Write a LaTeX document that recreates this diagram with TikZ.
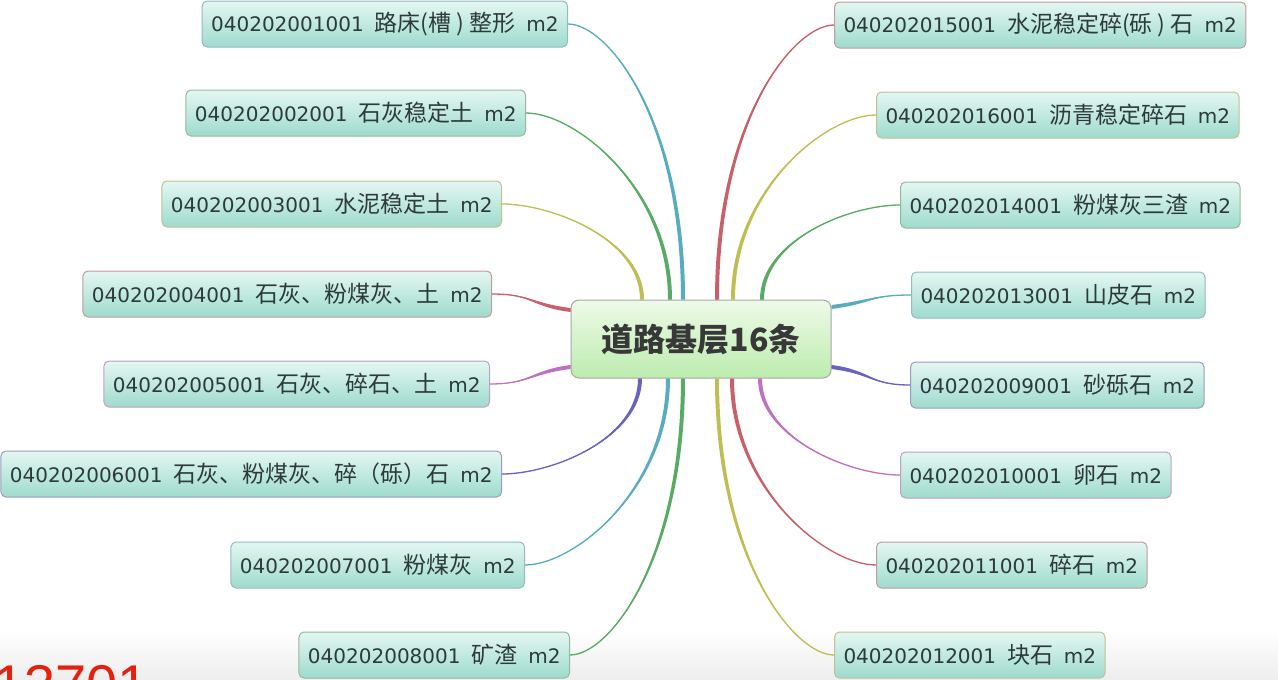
\documentclass[tikz,border=0pt]{standalone}
\usepackage{fontspec}
\setmainfont[WordSpace=1.7]{DejaVu Sans}
\newfontfamily\cjk[Scale=1.15]{Noto Sans CJK SC}
\newfontfamily\hubfont{Noto Sans CJK SC}
\newfontfamily\stampfont{Liberation Sans}
\usetikzlibrary{calc}
\definecolor{leaftop}{RGB}{228,247,242}
\definecolor{leafbot}{RGB}{158,219,205}
\definecolor{hubtop}{RGB}{238,250,232}
\definecolor{hubbot}{RGB}{188,236,174}
\definecolor{inktext}{RGB}{45,58,58}
\definecolor{lnteal}{RGB}{88,172,192}
\definecolor{lngreen}{RGB}{88,170,100}
\definecolor{lnolive}{RGB}{190,190,84}
\definecolor{lnred}{RGB}{200,96,106}
\definecolor{lnpink}{RGB}{192,112,192}
\definecolor{lnblue}{RGB}{104,98,192}
\definecolor{stampred}{RGB}{230,32,14}

% tapered branch: colour, leaf end, hub end, leaf handle, hub handle, half width at hub
\newcommand{\twig}[6]{%
  \fill[#1] (#2) .. controls ($(#2)+(#4)$) and ($(#3)+(#5)-(#6)$) .. ($(#3)-(#6)$)
    -- ($(#3)+(#6)$) .. controls ($(#3)+(#5)+(#6)$) and ($(#2)+(#4)$) .. (#2) -- cycle;
  \draw[#1, line width=1.3] (#2) .. controls ($(#2)+(#4)$) and ($(#3)+(#5)$) .. (#3);
}

\begin{document}
\begin{tikzpicture}[
        x=1pt, y=-1pt,
        leaf/.style={draw=#1!60!gray!70!white, line width=1, rounded corners=5, top color=leaftop, bottom color=leafbot,
            minimum height=46, inner xsep=9, text=inktext, font=\fontsize{20}{24}\selectfont},
        hub/.style={draw=black!35, line width=1, rounded corners=8, top color=hubtop, bottom color=hubbot,
            minimum width=260, minimum height=78, text=black!78, font=\fontsize{32}{36}\selectfont\hubfont\bfseries}
    ]
    \useasboundingbox (0,0) rectangle (1278,680);
    \clip (0,0) rectangle (1278,680);
    \shade[top color=white, bottom color=black!7] (0,630) rectangle (1278,680);

    \node[hub] (hub) at (701,339) {道路基层16条};

    % left column
    \node[leaf=lnteal, anchor=east] (l1) at (568,24) {040202001001 {\cjk 路床(槽 ) 整形} m2};
    \node[leaf=lngreen, anchor=east] (l2) at (526,113) {040202002001 {\cjk 石灰稳定土} m2};
    \node[leaf=lnolive, anchor=east] (l3) at (502,204) {040202003001 {\cjk 水泥稳定土} m2};
    \node[leaf=lnred, anchor=east] (l4) at (492,294) {040202004001 {\cjk 石灰、粉煤灰、土} m2};
    \node[leaf=lnpink, anchor=east] (l5) at (490,384) {040202005001 {\cjk 石灰、碎石、土} m2};
    \node[leaf=lnblue, anchor=east] (l6) at (502,474) {040202006001 {\cjk 石灰、粉煤灰、碎（砾）石} m2};
    \node[leaf=lnteal, anchor=east] (l7) at (525,565) {040202007001 {\cjk 粉煤灰} m2};
    \node[leaf=lngreen, anchor=east] (l8) at (570,655) {040202008001 {\cjk 矿渣} m2};

    % right column
    \node[leaf=lnred, anchor=west] (r1) at (834,25) {040202015001 {\cjk 水泥稳定碎(砾 ) 石} m2};
    \node[leaf=lnolive, anchor=west] (r2) at (876,115) {040202016001 {\cjk 沥青稳定碎石} m2};
    \node[leaf=lngreen, anchor=west] (r3) at (900,205) {040202014001 {\cjk 粉煤灰三渣} m2};
    \node[leaf=lnteal, anchor=west] (r4) at (911,295) {040202013001 {\cjk 山皮石} m2};
    \node[leaf=lnblue, anchor=west] (r5) at (910,385) {040202009001 {\cjk 砂砾石} m2};
    \node[leaf=lnpink, anchor=west] (r6) at (900,475) {040202010001 {\cjk 卵石} m2};
    \node[leaf=lnred, anchor=west] (r7) at (876,565) {040202011001 {\cjk 碎石} m2};
    \node[leaf=lnolive, anchor=west] (r8) at (834,655) {040202012001 {\cjk 块石} m2};

    % where the branches meet the hub
    \coordinate (a1) at ($(hub.north)+(-18,0)$);
    \coordinate (a2) at ($(hub.north)+(-31,0)$);
    \coordinate (a3) at ($(hub.north)+(-59,0)$);
    \coordinate (a4) at ($(hub.west)+(0,-29)$);
    \coordinate (a5) at ($(hub.west)+(0,28)$);
    \coordinate (a6) at ($(hub.south)+(-61,0)$);
    \coordinate (a7) at ($(hub.south)+(-33,0)$);
    \coordinate (a8) at ($(hub.south)+(-18,0)$);
    \coordinate (b1) at ($(hub.north)+(16,0)$);
    \coordinate (b2) at ($(hub.north)+(32,0)$);
    \coordinate (b3) at ($(hub.north)+(61,0)$);
    \coordinate (b4) at ($(hub.east)+(0,-32)$);
    \coordinate (b5) at ($(hub.east)+(0,28)$);
    \coordinate (b6) at ($(hub.south)+(59,0)$);
    \coordinate (b7) at ($(hub.south)+(31,0)$);
    \coordinate (b8) at ($(hub.south)+(16,0)$);

    \twig{lnteal}{l1.east}{a1}{40,0}{0,-180}{2,0}
    \twig{lngreen}{l2.east}{a2}{50,0}{0,-110}{2,0}
    \twig{lnolive}{l3.east}{a3}{50,0}{0,-60}{2,0}
    \twig{lnred}{l4.east}{a4}{40,0}{-40,-5}{0,2}
    \twig{lnpink}{l5.east}{a5}{40,0}{-40,5}{0,2}
    \twig{lnblue}{l6.east}{a6}{50,0}{0,60}{2,0}
    \twig{lnteal}{l7.east}{a7}{50,0}{0,110}{2,0}
    \twig{lngreen}{l8.east}{a8}{40,0}{0,180}{2,0}

    \twig{lnred}{r1.west}{b1}{-40,0}{0,-180}{2,0}
    \twig{lnolive}{r2.west}{b2}{-50,0}{0,-110}{2,0}
    \twig{lngreen}{r3.west}{b3}{-50,0}{0,-60}{2,0}
    \twig{lnteal}{r4.west}{b4}{-40,0}{40,-5}{0,2}
    \twig{lnblue}{r5.west}{b5}{-40,0}{40,5}{0,2}
    \twig{lnpink}{r6.west}{b6}{-50,0}{0,60}{2,0}
    \twig{lnred}{r7.west}{b7}{-50,0}{0,110}{2,0}
    \twig{lnolive}{r8.west}{b8}{-40,0}{0,180}{2,0}

    \node[anchor=base west, text=stampred, font=\fontsize{56}{56}\selectfont\stampfont, inner sep=0] (stamp) at (-7,704) {13701};
\end{tikzpicture}
\end{document}
